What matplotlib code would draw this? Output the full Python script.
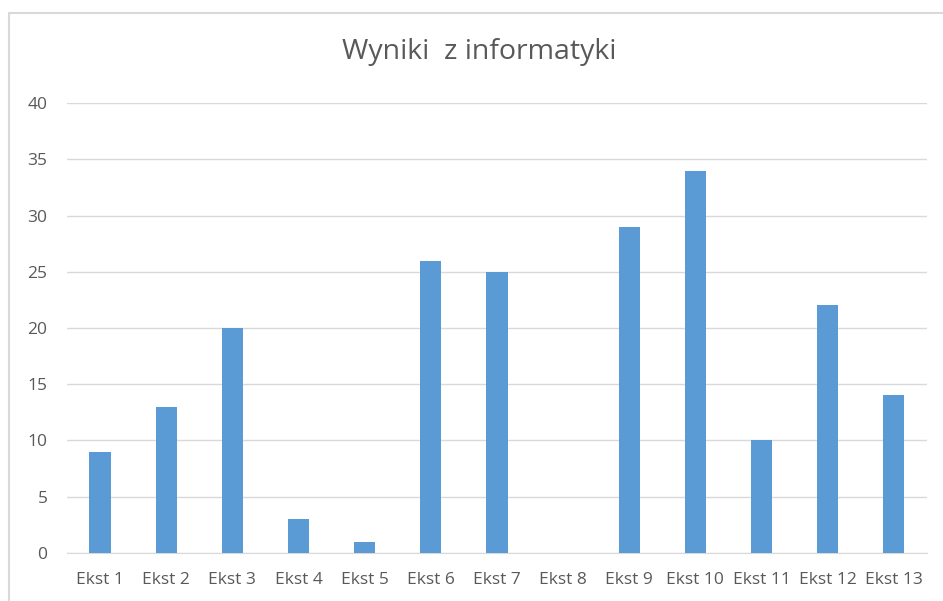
import matplotlib.pyplot as plt
from matplotlib.patches import Rectangle

# data
labels = ["Ekst 1", "Ekst 2", "Ekst 3", "Ekst 4", "Ekst 5", "Ekst 6", "Ekst 7",
          "Ekst 8", "Ekst 9", "Ekst 10", "Ekst 11", "Ekst 12", "Ekst 13"]
values = [9, 13, 20, 3, 1, 26, 25, 0, 29, 34, 10, 22, 14]
yticks = [0, 5, 10, 15, 20, 25, 30, 35, 40]

plt.rcParams['font.family'] = ['Open Sans', 'DejaVu Sans']
text_color = "#595959"
grid_color = "#d9d9d9"

fig = plt.figure(figsize=(9.43, 6.01), dpi=100)
ax = fig.add_axes([0.071, 0.0799, 0.912, 0.7487])

x = range(len(labels))
ax.bar(x, values, width=0.32, color="#5B9BD5", zorder=3)

ax.set_xlim(-0.5, len(labels) - 0.5)
ax.set_ylim(0, 40)
ax.set_yticks(yticks)
ax.set_xticks(list(x))
ax.set_xticklabels(labels)
ax.yaxis.grid(True, color=grid_color, linewidth=1)
ax.set_axisbelow(True)

for side in ["top", "right", "left"]:
    ax.spines[side].set_visible(False)
ax.spines["bottom"].set_color(grid_color)
ax.tick_params(axis="both", length=0, colors=text_color, labelsize=12.5)
ax.tick_params(axis="y", pad=14)
ax.tick_params(axis="x", pad=14)

fig.text(0.508, 0.913, "Wyniki  z informatyki", ha="center", va="center",
         fontsize=20.5, color=text_color)

# chart area border, cut off at right and bottom like the screenshot
fig.patches.append(Rectangle((9 / 943, -0.1), 1.2, 1 - 13 / 601 + 0.1,
                             transform=fig.transFigure, fill=False,
                             edgecolor=grid_color, linewidth=1.5))

fig.savefig("out.png", dpi=100)
